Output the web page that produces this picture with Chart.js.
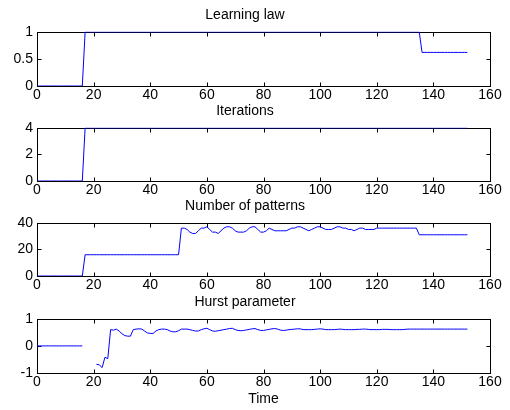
<!DOCTYPE html>
<html>
<head>
<meta charset="utf-8">
<script src="https://cdn.jsdelivr.net/npm/chart.js@4.4.0/dist/chart.umd.min.js"></script>
<style>
  html, body { margin: 0; padding: 0; background: #fff; overflow: hidden; }
  #wrap { position: relative; width: 510px; height: 410px; }
  canvas { position: absolute; left: 0; }
</style>
</head>
<body>
<div id="wrap">
  <canvas id="learningChart"></canvas>
  <canvas id="iterationsChart"></canvas>
  <canvas id="patternsChart"></canvas>
  <canvas id="hurstChart"></canvas>
</div>
<script>
// time steps 0..152
const time = [
  0, 1, 2, 3, 4, 5, 6, 7, 8, 9,
  10, 11, 12, 13, 14, 15, 16, 17, 18, 19,
  20, 21, 22, 23, 24, 25, 26, 27, 28, 29,
  30, 31, 32, 33, 34, 35, 36, 37, 38, 39,
  40, 41, 42, 43, 44, 45, 46, 47, 48, 49,
  50, 51, 52, 53, 54, 55, 56, 57, 58, 59,
  60, 61, 62, 63, 64, 65, 66, 67, 68, 69,
  70, 71, 72, 73, 74, 75, 76, 77, 78, 79,
  80, 81, 82, 83, 84, 85, 86, 87, 88, 89,
  90, 91, 92, 93, 94, 95, 96, 97, 98, 99,
  100, 101, 102, 103, 104, 105, 106, 107, 108, 109,
  110, 111, 112, 113, 114, 115, 116, 117, 118, 119,
  120, 121, 122, 123, 124, 125, 126, 127, 128, 129,
  130, 131, 132, 133, 134, 135, 136, 137, 138, 139,
  140, 141, 142, 143, 144, 145, 146, 147, 148, 149,
  150, 151, 152
];

const learningLaw = [
  0, 0, 0, 0, 0, 0, 0, 0, 0, 0,
  0, 0, 0, 0, 0, 0, 0, 1, 1, 1,
  1, 1, 1, 1, 1, 1, 1, 1, 1, 1,
  1, 1, 1, 1, 1, 1, 1, 1, 1, 1,
  1, 1, 1, 1, 1, 1, 1, 1, 1, 1,
  1, 1, 1, 1, 1, 1, 1, 1, 1, 1,
  1, 1, 1, 1, 1, 1, 1, 1, 1, 1,
  1, 1, 1, 1, 1, 1, 1, 1, 1, 1,
  1, 1, 1, 1, 1, 1, 1, 1, 1, 1,
  1, 1, 1, 1, 1, 1, 1, 1, 1, 1,
  1, 1, 1, 1, 1, 1, 1, 1, 1, 1,
  1, 1, 1, 1, 1, 1, 1, 1, 1, 1,
  1, 1, 1, 1, 1, 1, 1, 1, 1, 1,
  1, 1, 1, 1, 1, 1, 0.62, 0.62, 0.62, 0.62,
  0.62, 0.62, 0.62, 0.62, 0.62, 0.62, 0.62, 0.62, 0.62, 0.62,
  0.62, 0.62, 0.62
];

const iterations = [
  0, 0, 0, 0, 0, 0, 0, 0, 0, 0,
  0, 0, 0, 0, 0, 0, 0, 4, 4, 4,
  4, 4, 4, 4, 4, 4, 4, 4, 4, 4,
  4, 4, 4, 4, 4, 4, 4, 4, 4, 4,
  4, 4, 4, 4, 4, 4, 4, 4, 4, 4,
  4, 4, 4, 4, 4, 4, 4, 4, 4, 4,
  4, 4, 4, 4, 4, 4, 4, 4, 4, 4,
  4, 4, 4, 4, 4, 4, 4, 4, 4, 4,
  4, 4, 4, 4, 4, 4, 4, 4, 4, 4,
  4, 4, 4, 4, 4, 4, 4, 4, 4, 4,
  4, 4, 4, 4, 4, 4, 4, 4, 4, 4,
  4, 4, 4, 4, 4, 4, 4, 4, 4, 4,
  4, 4, 4, 4, 4, 4, 4, 4, 4, 4,
  4, 4, 4, 4, 4, 4, 4, 4, 4, 4,
  4, 4, 4, 4, 4, 4, 4, 4, 4, 4,
  4, 4, 4
];

const patterns = [
  0, 0, 0, 0, 0, 0, 0, 0, 0, 0,
  0, 0, 0, 0, 0, 0, 0, 16, 16, 16,
  16, 16, 16, 16, 16, 16, 16, 16, 16, 16,
  16, 16, 16, 16, 16, 16, 16, 16, 16, 16,
  16, 16, 16, 16, 16, 16, 16, 16, 16, 16,
  16, 36, 36, 35, 33, 32, 32, 34, 36, 36,
  37, 35, 33, 33, 32, 34, 36, 37, 37, 36,
  34, 33, 33, 33, 34, 36, 37, 37, 35, 33,
  33, 34, 36, 35, 34, 34, 34, 34, 34, 35,
  36, 36, 37, 37, 36, 35, 34, 35, 36, 37,
  37, 36, 35, 35, 35, 36, 37, 37, 36, 36,
  35, 35, 34, 35, 36, 36, 35, 35, 35, 35,
  36, 36, 36, 36, 36, 36, 36, 36, 36, 36,
  36, 36, 36, 36, 36, 31, 31, 31, 31, 31,
  31, 31, 31, 31, 31, 31, 31, 31, 31, 31,
  31, 31, 31
];

const hurst = [
  0, 0, 0, 0, 0, 0, 0, 0, 0, 0,
  0, 0, 0, 0, 0, 0, 0, null, null, null,
  null, -0.68, -0.7, -0.8, -0.42, -0.47, 0.6, 0.58, 0.62, 0.55,
  0.45, 0.38, 0.36, 0.36, 0.6, 0.62, 0.63, 0.62, 0.55, 0.48,
  0.46, 0.46, 0.55, 0.6, 0.62, 0.62, 0.6, 0.55, 0.52, 0.52,
  0.56, 0.62, 0.62, 0.62, 0.6, 0.57, 0.55, 0.55, 0.6, 0.63,
  0.65, 0.6, 0.55, 0.54, 0.56, 0.58, 0.6, 0.62, 0.64, 0.65,
  0.6, 0.57, 0.56, 0.57, 0.59, 0.61, 0.63, 0.64, 0.6, 0.57,
  0.57, 0.59, 0.61, 0.63, 0.64, 0.62, 0.58, 0.57, 0.58, 0.6,
  0.61, 0.62, 0.63, 0.63, 0.6, 0.6, 0.6, 0.6, 0.61, 0.62,
  0.63, 0.62, 0.6, 0.6, 0.6, 0.6, 0.61, 0.62, 0.61, 0.6,
  0.6, 0.6, 0.6, 0.61, 0.61, 0.62, 0.62, 0.61, 0.6, 0.6,
  0.6, 0.6, 0.61, 0.61, 0.61, 0.6, 0.6, 0.6, 0.6, 0.6,
  0.61, 0.62, 0.62, 0.62, 0.62, 0.62, 0.62, 0.62, 0.62, 0.62,
  0.62, 0.62, 0.62, 0.62, 0.62, 0.62, 0.62, 0.62, 0.62, 0.62,
  0.62, 0.62, 0.62
];

const xTicks = [0, 20, 40, 60, 80, 100, 120, 140, 160];

// MATLAB-like box with inward tick marks, drawn under the line
const boxAxes = {
  id: 'boxAxes',
  beforeDatasetsDraw(chart) {
    const { ctx, chartArea: a, scales } = chart;
    const l = Math.round(a.left) + 0.5, r = Math.round(a.right) + 0.5;
    const t = Math.round(a.top) + 0.5, b = Math.round(a.bottom) + 0.5;
    ctx.save();
    ctx.strokeStyle = '#000';
    ctx.lineWidth = 1;
    ctx.beginPath();
    scales.x.ticks.forEach(tk => {
      const px = Math.round(scales.x.getPixelForValue(tk.value)) + 0.5;
      ctx.moveTo(px, b); ctx.lineTo(px, b - 4);
      ctx.moveTo(px, t); ctx.lineTo(px, t + 4);
    });
    scales.y.ticks.forEach(tk => {
      const py = Math.round(scales.y.getPixelForValue(tk.value)) + 0.5;
      ctx.moveTo(l, py); ctx.lineTo(l + 4, py);
      ctx.moveTo(r, py); ctx.lineTo(r - 4, py);
    });
    ctx.stroke();
    ctx.strokeRect(l, t, r - l, b - t);
    ctx.restore();
  }
};

const font = 'Liberation Sans, Arial, sans-serif';

function makePanel(id, title, values, yMin, yMax, yStep, plotTop, plotBottom, xTitle) {
  const canvas = document.getElementById(id);
  const bottomSpace = xTitle ? 37 : 20;
  canvas.width = 510;
  canvas.height = (plotBottom - plotTop) + 25 + bottomSpace;
  canvas.style.top = (plotTop - 25) + 'px';
  const pts = time.map((t, i) => ({ x: t, y: values[i] }));
  return new Chart(canvas.getContext('2d'), {
    type: 'line',
    data: {
      datasets: [{
        data: pts,
        borderColor: '#0000ff',
        borderWidth: 1,
        pointRadius: 0,
        tension: 0,
        fill: false
      }]
    },
    options: {
      responsive: false,
      animation: false,
      layout: { padding: { left: 0, right: 20, top: 0, bottom: 0 } },
      plugins: {
        legend: { display: false },
        tooltip: { enabled: false },
        title: {
          display: true,
          text: title,
          color: '#000',
          font: { family: font, size: 14, weight: 'normal', lineHeight: 1.2 },
          padding: { top: 0, bottom: 8 }
        }
      },
      scales: {
        x: {
          type: 'linear',
          min: 0, max: 160,
          afterBuildTicks: s => { s.ticks = xTicks.map(v => ({ value: v })); },
          afterFit: s => { s.height = bottomSpace; },
          grid: { display: false, drawTicks: false },
          border: { display: false },
          ticks: { color: '#000', padding: 1, maxRotation: 0, font: { family: font, size: 14 } },
          title: {
            display: !!xTitle,
            text: xTitle || '',
            color: '#000',
            font: { family: font, size: 14 },
            padding: { top: 0, bottom: 2 }
          }
        },
        y: {
          min: yMin, max: yMax,
          ticks: {
            stepSize: yStep, color: '#000', padding: 4,
            font: { family: font, size: 14 },
            callback: v => String(v)
          },
          afterFit: s => { s.width = 37; },
          grid: { display: false, drawTicks: false },
          border: { display: false }
        }
      }
    },
    plugins: [boxAxes]
  });
}

makePanel('learningChart', 'Learning law', learningLaw, 0, 1, 0.5, 32, 86);
makePanel('iterationsChart', 'Iterations', iterations, 0, 4, 2, 128, 181);
makePanel('patternsChart', 'Number of patterns', patterns, 0, 40, 20, 223, 276);
makePanel('hurstChart', 'Hurst parameter', hurst, -1, 1, 1, 319, 373, 'Time');
</script>
</body>
</html>
